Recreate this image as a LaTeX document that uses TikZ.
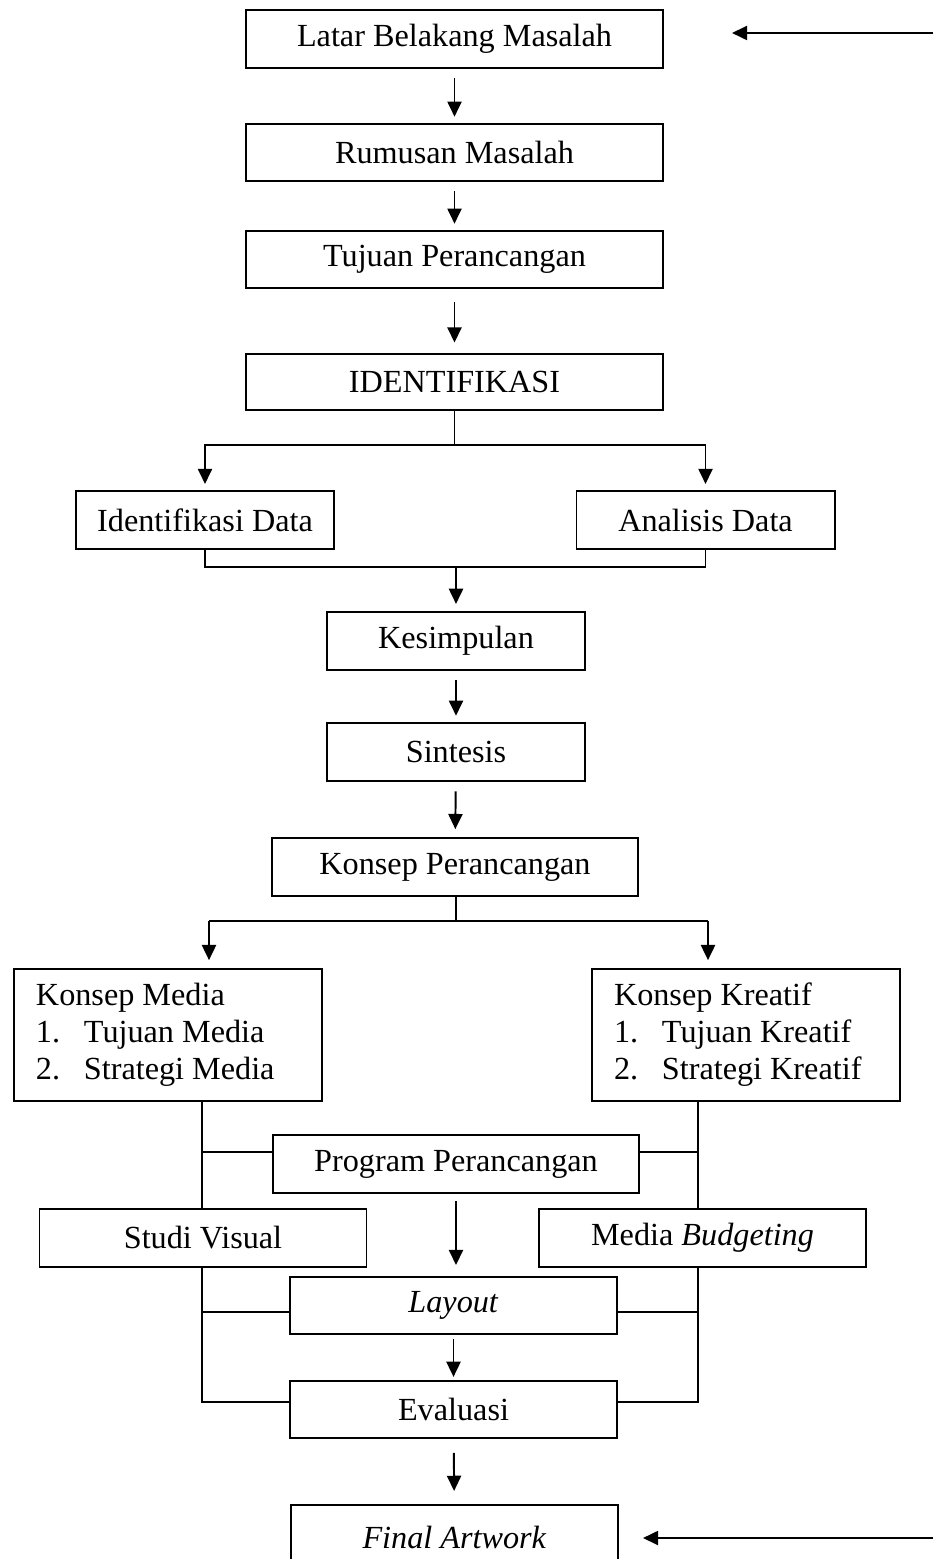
\documentclass[tikz,border=0pt]{standalone}
\usepackage{fontspec}
\setmainfont{Liberation Serif}
\usetikzlibrary{arrows.meta, positioning, calc}
\newdimen\pxu
\pxu=0.3817pt
\tikzset{
x=0.3817pt, y=-0.3817pt,
>={Triangle[length=5.8pt,width=5.4pt]},
box/.style={%
    rectangle,
    draw=black,
    line width=0.75pt,
    inner sep=0pt,
    minimum height=58*\pxu,
    font=\fontsize{12.3}{14.2}\selectfont
},
wbox/.style={box, minimum width=417*\pxu},
mbox/.style={box, minimum width=258*\pxu},
kbox/.style={box, minimum width=366*\pxu},
lbox/.style={box, minimum width=327*\pxu},
listbox/.style={box, inner xsep=8.4pt, minimum height=132*\pxu},
link/.style={line width=0.75pt},
flow/.style={->, line width=0.75pt},
flowgap/.style={flow, shorten <=3.6pt, shorten >=2.4pt},
}
\newcommand{\itemno}[1]{\makebox[18.3pt][l]{#1}}
\newcommand{\listtext}[1]{\makebox[100.8pt][l]{\begin{tabular}{@{}l@{}}#1\end{tabular}}}

\begin{document}
\begin{tikzpicture}
\useasboundingbox (0,0) rectangle (933,1559);

\node[wbox] (latar) at (454.5,39) {Latar Belakang Masalah};
\node[wbox, minimum height=57*\pxu] (rumusan) at (454.5,152.5) {Rumusan Masalah};
\node[wbox, minimum height=57*\pxu] (tujuan) at (454.5,259.5) {Tujuan Perancangan};
\node[wbox, minimum height=56*\pxu] (ident) at (454.5,382) {IDENTIFIKASI};
\node[mbox] (iddata) at (205,520) {Identifikasi Data};
\node[mbox] (analisis) at (705.5,520) {Analisis Data};
\node[mbox] (kesimpulan) at (456,641) {Kesimpulan};
\node[mbox] (sintesis) at (456,752) {Sintesis};
\node[kbox] (konsep) at (455,867) {Konsep Perancangan};
\node[listbox, anchor=north west] (kmedia) at (13,968)
    {\listtext{Konsep Media\\\itemno{1.}Tujuan Media\\\itemno{2.}Strategi Media}};
\node[listbox, anchor=north west] (kkreatif) at (591,968)
    {\listtext{Konsep Kreatif\\\itemno{1.}Tujuan Kreatif\\\itemno{2.}Strategi Kreatif}};
\node[kbox] (program) at (456,1164) {Program Perancangan};
\node[lbox] (studi) at (203,1238) {Studi Visual};
\node[lbox] (budget) at (702.5,1238) {Media \textit{Budgeting}};
\node[lbox, minimum height=57*\pxu] (layout) at (453.5,1305.5) {\textit{Layout}};
\node[lbox, minimum height=57*\pxu] (evaluasi) at (453.5,1409.5) {Evaluasi};
\node[lbox, minimum height=64*\pxu] (final) at (454.5,1537) {\textit{Final Artwork}};

% junctions
\coordinate (in1) at (933,33);
\coordinate (tip1) at (732,33);
\coordinate (in2) at (933,1538);
\coordinate (tip2) at (643,1538);
\coordinate (split1) at (454.5,445);
\coordinate (join1) at (456,567);
\coordinate (split2) at (456,921);
\coordinate (bl) at (209,921);
\coordinate (br) at (708,921);
\coordinate (lp) at (202,1152);
\coordinate (rp) at (698,1152);
\coordinate (ll) at (202,1312);
\coordinate (rl) at (698,1312);
\coordinate (le) at (202,1402);
\coordinate (re) at (698,1402);

\draw[flow] (in1) -- (tip1);
\draw[flow] (in2) -- (tip2);

\draw[flowgap] (latar) -- (rumusan);
\draw[flowgap] (rumusan) -- (tujuan);
\draw[flowgap, shorten <=5pt, shorten >=4pt] (tujuan) -- (ident);

\draw[link] (ident.south) -- (split1);
\draw[flow, shorten >=2.3pt] (split1) -| (iddata.north);
\draw[flow, shorten >=2.3pt] (split1) -| (analisis.north);
\draw[link] (iddata.south) |- (join1) -| (analisis.south);
\draw[flow, shorten >=2.7pt] (join1) -- (join1 |- kesimpulan.north);

\draw[flowgap] (kesimpulan) -- (sintesis);
\draw[flowgap, shorten >=3pt] (sintesis) -- (konsep);

\draw[link] (konsep.south -| split2) -- (split2);
\draw[link] (bl) -- (br);
\draw[flow, shorten >=3pt] (bl) -- (bl |- kmedia.north);
\draw[flow, shorten >=3pt] (br) -- (br |- kkreatif.north);

\draw[link] (kmedia.south -| lp) -- (studi.north -| lp);
\draw[link] (kkreatif.south -| rp) -- (budget.north -| rp);
\draw[link] (lp) -- (lp -| program.west);
\draw[link] (rp) -- (rp -| program.east);
\draw[flow, shorten <=2.7pt, shorten >=4.2pt] (program.south) -- (program.south |- layout.north);

\draw[link] (studi.south -| le) -- (le) -- (le -| evaluasi.west);
\draw[link] (budget.south -| re) -- (re) -- (re -| evaluasi.east);
\draw[link] (ll) -- (ll -| layout.west);
\draw[link] (rl) -- (rl -| layout.east);

\draw[flowgap, shorten <=1.5pt, shorten >=1.2pt] (layout) -- (evaluasi);
\draw[flowgap, shorten <=5.3pt, shorten >=5pt] (evaluasi) -- (final);
\end{tikzpicture}
\end{document}
